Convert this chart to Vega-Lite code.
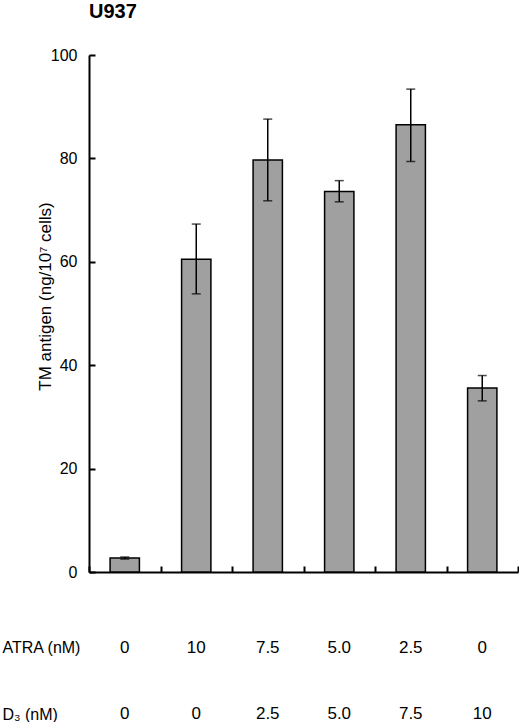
{
  "$schema": "https://vega.github.io/schema/vega-lite/v6.json",
  "padding": {"left": 2, "top": 2, "right": 0, "bottom": 0},
  "config": {
    "font": "Liberation Sans",
    "view": {"stroke": null},
    "axis": {"labelFont": "Liberation Sans", "titleFont": "Liberation Sans", "labelColor": "#000", "titleColor": "#000"}
  },
  "datasets": {
    "bars": [
      {"grp": "0/0", "tm": 2.7, "lo": 2.5, "hi": 2.9},
      {"grp": "10/0", "tm": 60.5, "lo": 53.8, "hi": 67.3},
      {"grp": "7.5/2.5", "tm": 79.7, "lo": 71.8, "hi": 87.6},
      {"grp": "5.0/5.0", "tm": 73.6, "lo": 71.6, "hi": 75.7},
      {"grp": "2.5/7.5", "tm": 86.5, "lo": 79.4, "hi": 93.4},
      {"grp": "0/10", "tm": 35.6, "lo": 33.1, "hi": 38.0}
    ],
    "table": [
      {"grp": "0/0", "row": "ATRA (nM)", "val": "0"},
      {"grp": "10/0", "row": "ATRA (nM)", "val": "10"},
      {"grp": "7.5/2.5", "row": "ATRA (nM)", "val": "7.5"},
      {"grp": "5.0/5.0", "row": "ATRA (nM)", "val": "5.0"},
      {"grp": "2.5/7.5", "row": "ATRA (nM)", "val": "2.5"},
      {"grp": "0/10", "row": "ATRA (nM)", "val": "0"},
      {"grp": "0/0", "row": "D₃ (nM)", "val": "0"},
      {"grp": "10/0", "row": "D₃ (nM)", "val": "0"},
      {"grp": "7.5/2.5", "row": "D₃ (nM)", "val": "2.5"},
      {"grp": "5.0/5.0", "row": "D₃ (nM)", "val": "5.0"},
      {"grp": "2.5/7.5", "row": "D₃ (nM)", "val": "7.5"},
      {"grp": "0/10", "row": "D₃ (nM)", "val": "10"}
    ]
  },
  "spacing": 58,
  "vconcat": [
    {
      "title": {"text": "U937", "anchor": "start", "frame": "group", "fontSize": 20, "fontWeight": "bold", "offset": 25, "color": "#000"},
      "width": 429,
      "height": 517,
      "data": {"name": "bars"},
      "encoding": {
        "x": {
          "field": "grp", "type": "nominal", "sort": null,
          "scale": {"paddingInner": 0, "paddingOuter": 0},
          "axis": {"title": null, "labels": false, "tickBand": "extent", "tickSize": -6, "tickWidth": 2, "tickColor": "#000", "domainWidth": 2, "domainColor": "#000", "grid": false}
        }
      },
      "layer": [
        {
          "mark": {"type": "bar", "width": {"band": 0.41}, "fill": "#a0a0a0", "stroke": "#000", "strokeWidth": 1.5},
          "encoding": {
            "y": {
              "field": "tm", "type": "quantitative",
              "scale": {"domain": [0, 100]},
              "axis": {
                "title": "TM antigen (ng/10⁷ cells)", "titleFontSize": 17, "titleFontWeight": "normal", "titlePadding": -4, "titleY": 241,
                "values": [0, 20, 40, 60, 80, 100], "labelFontSize": 16, "labelPadding": 18,
                "tickSize": -6, "tickWidth": 2, "tickColor": "#000", "domainWidth": 2, "domainColor": "#000", "grid": false
              }
            }
          }
        },
        {
          "mark": {"type": "rule", "color": "#000", "strokeWidth": 1.5},
          "encoding": {"y": {"field": "lo", "type": "quantitative"}, "y2": {"field": "hi"}}
        },
        {
          "mark": {"type": "tick", "color": "#000", "thickness": 1.5, "size": 9},
          "encoding": {"y": {"field": "lo", "type": "quantitative"}}
        },
        {
          "mark": {"type": "tick", "color": "#000", "thickness": 1.5, "size": 9},
          "encoding": {"y": {"field": "hi", "type": "quantitative"}}
        }
      ]
    },
    {
      "width": 429,
      "height": 80,
      "data": {"name": "table"},
      "mark": {"type": "text", "fontSize": 17, "color": "#000"},
      "encoding": {
        "x": {"field": "grp", "type": "nominal", "sort": null, "scale": {"paddingInner": 0, "paddingOuter": 0}, "axis": null},
        "y": {
          "field": "row", "type": "ordinal", "sort": null,
          "scale": {"type": "point", "padding": 0.1},
          "axis": {"title": null, "domain": false, "ticks": false, "labelAlign": "left", "labelPadding": 87, "labelFontSize": 16, "labelBaseline": "middle"}
        },
        "text": {"field": "val"}
      }
    }
  ]
}
